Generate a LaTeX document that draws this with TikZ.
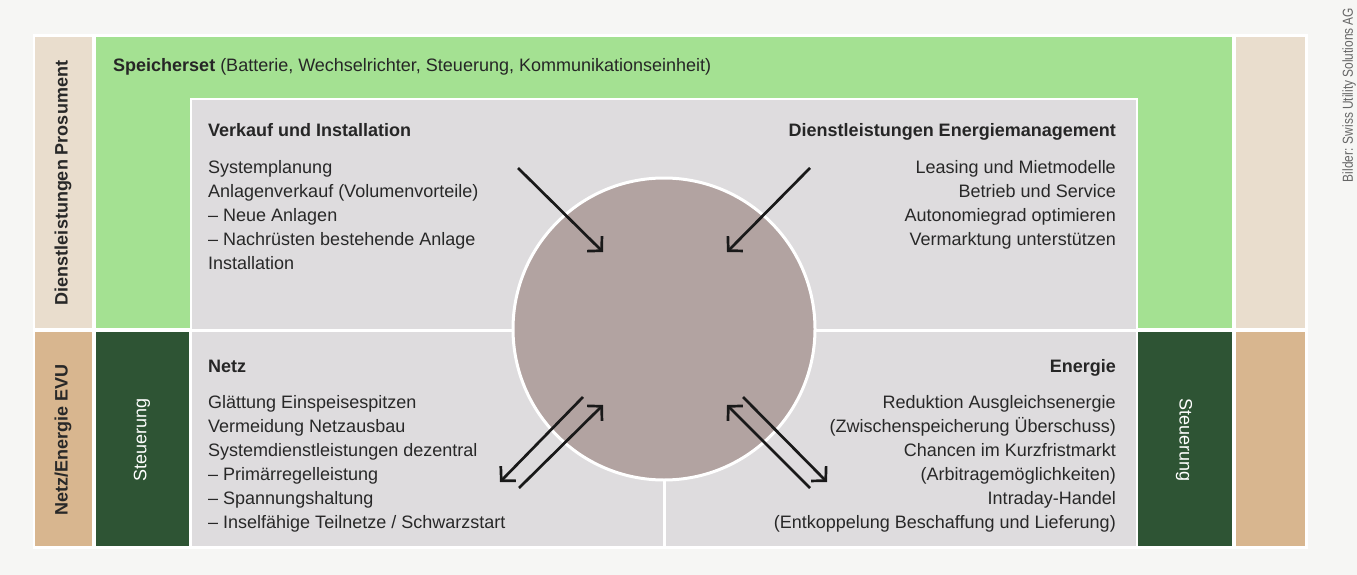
\documentclass[tikz,border=0pt]{standalone}
\usepackage{fontspec}
\setmainfont{Liberation Sans}
\usepackage{tikz}
\usetikzlibrary{arrows.meta,positioning}
\definecolor{ssbg}{RGB}{246,246,244}
\definecolor{sstanlight}{RGB}{233,221,205}
\definecolor{sstandark}{RGB}{216,182,143}
\definecolor{ssgreen}{RGB}{164,225,146}
\definecolor{ssdark}{RGB}{46,84,52}
\definecolor{ssgrey}{RGB}{222,220,222}
\definecolor{sscore}{RGB}{178,163,161}
\definecolor{sstext}{RGB}{40,40,40}
\tikzstyle{flow} = [line width=2.7pt,->,>={Straight Barb[length=10pt,width=21pt]},color=black!90]
\tikzstyle{body} = [inner sep=0pt,text=sstext,font=\fontsize{18}{24}\selectfont]
\tikzstyle{head} = [inner sep=0pt,text=black!85,font=\fontsize{18}{24}\selectfont\bfseries]
\tikzstyle{side} = [inner sep=0pt,rotate=90,text=sstext,font=\fontsize{18}{22}\selectfont\bfseries]
\tikzstyle{ctrl} = [inner sep=0pt,text=white,font=\fontsize{18}{22}\selectfont]

\begin{document}
\begin{tikzpicture}[x=1pt,y=-1pt]
\useasboundingbox (0,0) rectangle (1357,575);
\fill[ssbg] (0,0) rectangle (1357,575);
\fill[white] (33,34) rectangle (1308,549);

% columns and rows
\fill[sstanlight] (35,37) rectangle (92,328);
\fill[sstandark] (35,332) rectangle (92,546);
\fill[ssgreen] (96,37) rectangle (1232,328);
\fill[ssdark] (96,332) rectangle (189,546);
\fill[ssdark] (1138,332) rectangle (1232,546);
\fill[sstanlight] (1236,37) rectangle (1305,328);
\fill[sstandark] (1236,332) rectangle (1305,546);

% inner field
\filldraw[fill=ssgrey,draw=white,line width=2pt] (191,99) rectangle (1137,547);
\draw[white,line width=3pt] (191,330) -- (1137,330);
\draw[white,line width=3pt] (664,330) -- (664,547);
\node[circle,fill=sscore,draw=white,line width=3pt,minimum size=302pt,inner sep=0pt] (core) at (664,329) {};

% side labels
\node[side] (prosument) at (63,183) {Dienstleistungen Prosument};
\node[side] (evu) at (63,440) {Netz/Energie EVU};
\node[ctrl,rotate=90] (ctrlleft) at (142,440) {Steuerung};
\node[ctrl,rotate=-90] (ctrlright) at (1184,440) {Steuerung};
\node[inner sep=0pt,rotate=90,xscale=0.82,text=black!60,font=\fontsize{14.5}{16}\selectfont] (credit) at (1349,95) {Bilder: Swiss Utility Solutions AG};

\node[head,anchor=base west] (set) at (113,71.5) {Speicherset \mdseries(Batterie, Wechselrichter, Steuerung, Kommunikationseinheit)};

% quadrants
\node[head,anchor=base west] (salehead) at (208,136.5) {Verkauf und Installation};
\node[body,anchor=north west,align=left] (sale) at (208,160) {Systemplanung\\Anlagenverkauf (Volumenvorteile)\\-- Neue Anlagen\\-- Nachrüsten bestehende Anlage\\Installation};

\node[head,anchor=base east] (servhead) at (1116,136.5) {Dienstleistungen Energiemanagement};
\node[body,anchor=north east,align=right] (serv) at (1116,160) {Leasing und Mietmodelle\\Betrieb und Service\\Autonomiegrad optimieren\\Vermarktung unterstützen};

\node[head,anchor=base west] (gridhead) at (208,372.5) {Netz};
\node[body,anchor=north west,align=left] (grid) at (208,395) {Glättung Einspeisespitzen\\Vermeidung Netzausbau\\Systemdienstleistungen dezentral\\-- Primärregelleistung\\-- Spannungshaltung\\-- Inselfähige Teilnetze / Schwarzstart};

\node[head,anchor=base east] (enhead) at (1116,372.5) {Energie};
\node[body,anchor=north east,align=right] (en) at (1116,395) {Reduktion Ausgleichsenergie\\(Zwischenspeicherung Überschuss)\\Chancen im Kurzfristmarkt\\(Arbitragemöglichkeiten)\\Intraday-Handel\\(Entkoppelung Beschaffung und Lieferung)};

% arrows
\coordinate (saleA) at (518,168);
\coordinate (saleB) at (603,252);
\coordinate (servA) at (810,168);
\coordinate (servB) at (727,252);
\coordinate (gridoutA) at (583,397);
\coordinate (gridoutB) at (500,482);
\coordinate (gridinA) at (519,488);
\coordinate (gridinB) at (603,405);
\coordinate (eninA) at (810,488);
\coordinate (eninB) at (727,405);
\coordinate (enoutA) at (743,397);
\coordinate (enoutB) at (827,482);
\draw[flow] (saleA) -- (saleB);
\draw[flow] (servA) -- (servB);
\draw[flow] (gridoutA) -- (gridoutB);
\draw[flow] (gridinA) -- (gridinB);
\draw[flow] (eninA) -- (eninB);
\draw[flow] (enoutA) -- (enoutB);
\end{tikzpicture}
\end{document}
